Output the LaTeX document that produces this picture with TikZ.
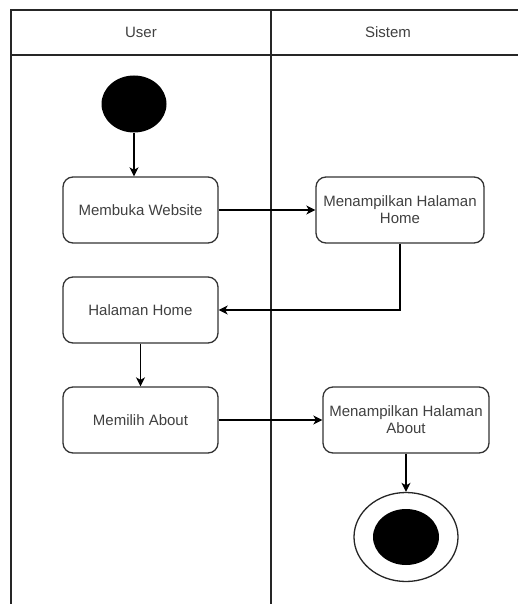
\documentclass[tikz,border=0pt]{standalone}
\usepackage{fontspec}
\setmainfont{Liberation Sans}
\usetikzlibrary{arrows.meta,shapes.geometric}
\begin{document}
\begin{tikzpicture}[x=1pt,y=-1pt,
  lane/.style={line width=2pt,draw=black!85},
  actbox/.style={draw=black!80,line width=1.3pt,rounded corners=10pt,fill=white,
    minimum width=155pt,minimum height=66pt,align=center,
    font=\fontsize{15}{17}\selectfont,text=black!75,inner sep=2pt},
  flow/.style={line width=1.3pt,draw=black,-{Stealth[length=9pt,width=9pt,inset=2.5pt]}},
  hdr/.style={font=\fontsize{15}{17}\selectfont,text=black!75}]
\useasboundingbox (0,0) rectangle (518,604);
% swimlane frame
\draw[lane] (11,604) -- (11,10) -- (518,10);
\draw[lane] (11,55) -- (518,55);
\draw[lane] (271,10) -- (271,604);
\node[hdr] (huser) at (141,32) {User};
\node[hdr] (hsys) at (388,32) {Sistem};
% start state
\node[ellipse,fill=black,minimum width=65pt,minimum height=57pt,inner sep=0pt] (start) at (134,104) {};
% activities
\node[actbox] (web) at (140.5,210) {Membuka Website};
\node[actbox,minimum width=168pt] (showhome) at (400,210) {Menampilkan Halaman\\Home};
\node[actbox] (home) at (140.5,310) {Halaman Home};
\node[actbox] (about) at (140.5,420) {Memilih About};
\node[actbox,minimum width=166pt] (showabout) at (406,420) {Menampilkan Halaman\\About};
% end state
\node[ellipse,draw=black!85,line width=1.3pt,minimum width=104pt,minimum height=89pt,inner sep=0pt] (endo) at (406,537) {};
\node[ellipse,fill=black,minimum width=66pt,minimum height=56pt,inner sep=0pt] (endi) at (406,537) {};
% transitions
\draw[flow] (start.south) -- (start.south |- web.north);
\draw[flow] (web.east) -- (showhome.west);
\draw[flow] (showhome.south) |- (home.east);
\draw[flow] (home.south) -- (about.north);
\draw[flow] (about.east) -- (showabout.west);
\draw[flow] (showabout.south) -- (endo.north);
\end{tikzpicture}
\end{document}
